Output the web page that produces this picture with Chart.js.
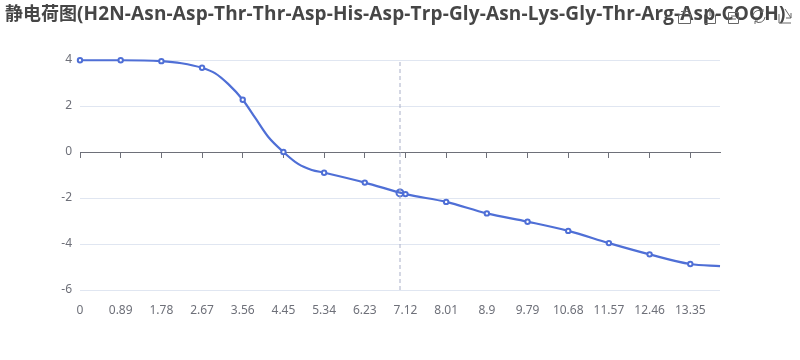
<!DOCTYPE html>
<html>
<head>
<meta charset="utf-8">
<script src="https://cdn.jsdelivr.net/npm/chart.js@4/dist/chart.umd.min.js"></script>
<style>
    body { margin: 0; background: #fff; }
    #box { position: relative; width: 800px; height: 360px; overflow: hidden; }
    #title { position: absolute; left: 5px; top: -1px; white-space: nowrap; color: #464646; font: bold 18px "Noto Sans CJK SC", sans-serif; }
    #title span { font: bold 19px "Open Sans", sans-serif; letter-spacing: 0.14px; }
    #tools { position: absolute; left: 0; top: 0; }
</style>
</head>
<body>
<div id="box">
    <canvas id="canvas1" width="800" height="360"></canvas>
    <div id="title">静电荷图<span>(H2N-Asn-Asp-Thr-Thr-Asp-His-Asp-Trp-Gly-Asn-Lys-Gly-Thr-Arg-Asp-COOH)</span></div>
    <svg id="tools" width="800" height="30" fill="none" stroke="#666" stroke-width="1">
        <path d="M678.5 14.5v9h12v-9M679 14.5h3M688 14.5h3M681 11.5h7M684.5 8v7"/>
        <path d="M704.5 14.5v9h11v-9M710 8v8M707 11l3-3 3 3"/>
        <path d="M728.5 12.5v11h10v-11zM731 16h5M731 19h5"/>
        <path d="M753 15a6 6 0 0 1 10-3M765 17a6 6 0 0 1-10 4M763 9v3h-3M755 24v-3h3"/>
        <path d="M779 14v9h12M785 9l6 9M791 13v5h-5"/>
    </svg>
</div>
<script>
// extra x positions between the ticks have no marker, they only keep the curve on the reference
const xValues = [0, 0.89, 1.78, 2.22, 2.67, 2.95, 3.24, 3.56, 3.83, 4.12, 4.45, 4.78, 5.07, 5.34, 6.23, 7.12, 8.01, 8.9, 9.79, 10.68, 11.57, 12.46, 13.35, 14];
const charge = [3.99, 3.99, 3.95, 3.86, 3.66, 3.43, 2.96, 2.27, 1.49, 0.65, 0, -0.53, -0.78, -0.9, -1.33, -1.83, -2.17, -2.67, -3.03, -3.43, -3.96, -4.45, -4.87, -4.96];
const xTicks = [0, 0.89, 1.78, 2.67, 3.56, 4.45, 5.34, 6.23, 7.12, 8.01, 8.9, 9.79, 10.68, 11.57, 12.46, 13.35];
const hoverX = [7];
const hoverY = [-1.78];
const pointerY = [-6, 4];

const axisColor = '#6E7079';
const lineColor = '#4F6FD6';
const font = { family: '"Noto Sans", sans-serif', size: 12 };

function setXTicks(scale) {
    scale.ticks = xTicks.map(v => ({ value: v }));
}

const data = {
    datasets: [
        {
            // dashed line of the axis pointer
            data: pointerY.map(y => ({ x: hoverX[0], y: y })),
            borderColor: '#A9AFC8',
            borderWidth: 1,
            borderDash: [4, 3],
            pointRadius: 0
        },
        {
            data: xValues.map((x, i) => ({ x: x, y: charge[i] })),
            borderColor: lineColor,
            backgroundColor: '#fff',
            borderWidth: 2.2,
            cubicInterpolationMode: 'monotone',
            pointRadius: xValues.map(x => xTicks.includes(x) ? 2.2 : 0),
            pointBorderWidth: 2,
            pointBorderColor: lineColor,
            pointBackgroundColor: '#fff',
            clip: false
        },
        {
            // highlighted point under the pointer
            data: hoverX.map((x, i) => ({ x: x, y: hoverY[i] })),
            showLine: false,
            pointRadius: 3.5,
            pointBorderWidth: 2,
            pointBorderColor: lineColor,
            pointBackgroundColor: '#fff'
        }
    ]
};

const config = {
    type: 'line',
    data: data,
    options: {
        responsive: false,
        animation: false,
        events: [],
        layout: { padding: { top: 60, right: 80, bottom: 0, left: 0 } },
        plugins: { legend: { display: false }, tooltip: { enabled: false } },
        scales: {
            x: {
                type: 'linear',
                position: 'bottom',
                min: 0,
                max: 14,
                afterBuildTicks: setXTicks,
                afterFit: s => { s.height = 70; },
                grid: { display: false },
                border: { display: false },
                ticks: { color: axisColor, font: font, autoSkip: false, maxRotation: 0, padding: 5, callback: v => String(v) }
            },
            // axis line and tick marks sitting on y = 0, labels stay at the bottom
            x2: {
                type: 'linear',
                axis: 'x',
                position: { y: 0 },
                min: 0,
                max: 14,
                afterBuildTicks: setXTicks,
                afterFit: s => { s.height = 0; },
                grid: { drawOnChartArea: false, drawTicks: true, tickLength: 5, tickColor: axisColor },
                border: { display: true, color: axisColor },
                ticks: { display: false }
            },
            y: {
                min: -6,
                max: 4,
                afterFit: s => { s.width = 80; },
                grid: { color: '#E0E6F1', drawTicks: false },
                border: { display: false },
                ticks: { stepSize: 2, color: axisColor, font: font, padding: 8 }
            }
        }
    }
};

new Chart(document.getElementById('canvas1'), config);
</script>
</body>
</html>
